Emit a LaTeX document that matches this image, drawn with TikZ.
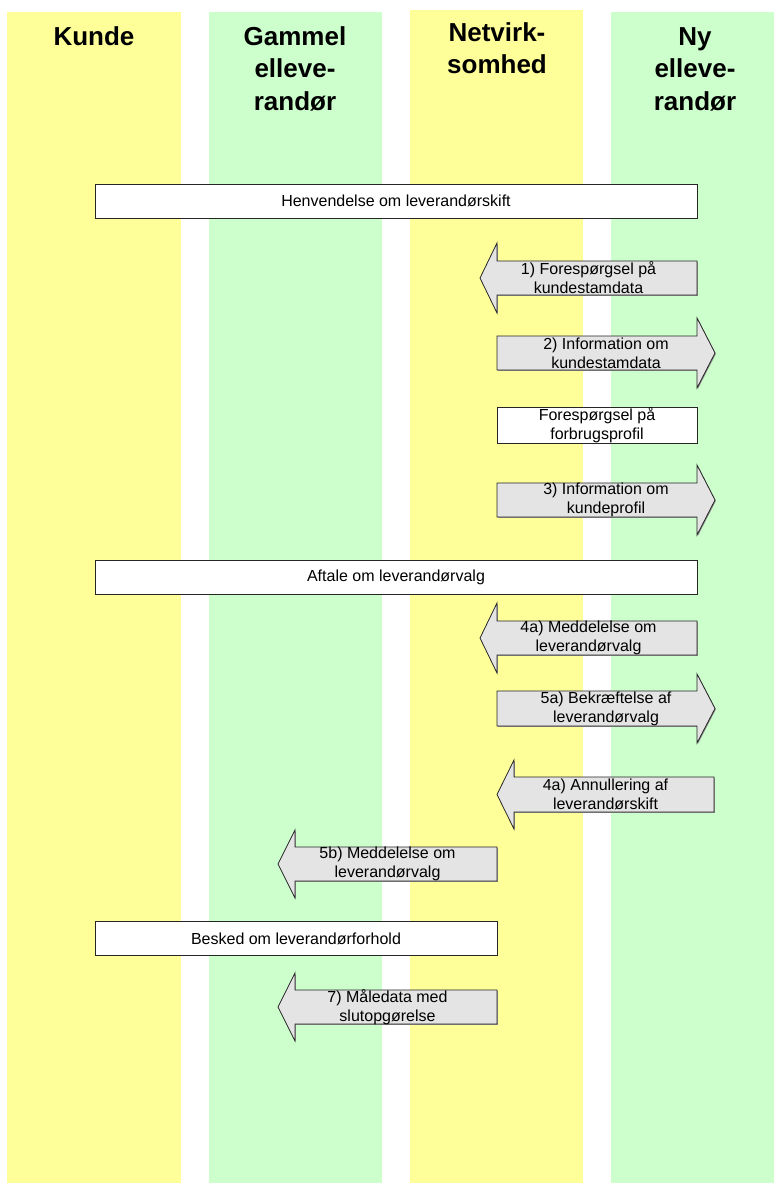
\documentclass[tikz,border=0pt]{standalone}
\usepackage{fontspec}
\setmainfont{Liberation Sans}
\usepackage{tikz}
\usetikzlibrary{shadows}

\definecolor{laneyellow}{HTML}{FFFF99}
\definecolor{lanegreen}{HTML}{CCFFCC}
\definecolor{msggray}{HTML}{E4E4E4}

\begin{document}
\begin{tikzpicture}[x=1pt, y=-1pt]
			\tikzset{head/.style={font=\fontsize{26}{32.5}\selectfont\bfseries, align=center, anchor=base, inner sep=0pt}}
			\tikzset{shade it/.style={drop shadow={shadow xshift=0.9pt, shadow yshift=-0.9pt, fill=black!45, opacity=1}}}
			\tikzset{note/.style={draw=black!85, line width=0.8pt, fill=white, shade it, minimum height=34pt, inner sep=0pt, font=\fontsize{16}{19}\selectfont}}
			\tikzset{msg/.style={draw=black!85, line width=0.8pt, fill=msggray, shade it, line join=miter}}
			\tikzset{msgtext/.style={align=center, inner sep=0pt, font=\fontsize{16}{19}\selectfont}}
			\useasboundingbox (0,0) rectangle (774,1183);
			%lanes
			\fill[laneyellow] (7,12) rectangle (181,1183);
			\fill[lanegreen] (209,12) rectangle (382,1183);
			\fill[laneyellow] (410,10) rectangle (583,1183);
			\fill[lanegreen] (611,12) rectangle (774,1183);
			%headers (base = last line)
			\node[head] (kunde) at (94,45) {Kunde};
			\node[head] (gammel) at (295,110) {Gammel\\elleve-\\randør};
			\node[head] (netvirk) at (497,73.5) {Netvirk-\\somhed};
			\node[head] (ny) at (695,110) {Ny\\elleve-\\randør};
			%boxes
			\node[note, minimum width=602pt] (henv) at (396,201) {Henvendelse om leverandørskift};
			\node[note, minimum width=200pt, align=center] (forbrug) at (597,425.5) {Forespørgsel på\\forbrugsprofil};
			\node[note, minimum width=602pt] (aftale) at (396,577) {Aftale om leverandørvalg};
			\node[note, minimum width=402pt] (besked) at (296,938.5) {Besked om leverandørforhold};
			%arrows
			\draw[msg] (697,261) -- (497,261) -- (497,243) -- (480,278) -- (497,313) -- (497,295) -- (697,295) -- cycle;
			\node[msgtext] (m1) at (588.5,278) {1) Forespørgsel på\\kundestamdata};
			\draw[msg] (497,336) -- (697,336) -- (697,318) -- (715,353) -- (697,388) -- (697,370) -- (497,370) -- cycle;
			\node[msgtext] (m2) at (606,353) {2) Information om\\kundestamdata};
			\draw[msg] (497,483) -- (697,483) -- (697,465) -- (715,500) -- (697,535) -- (697,517) -- (497,517) -- cycle;
			\node[msgtext] (m3) at (606,500) {3) Information om\\kundeprofil};
			\draw[msg] (697,621) -- (497,621) -- (497,603) -- (480,638) -- (497,673) -- (497,655) -- (697,655) -- cycle;
			\node[msgtext] (m4a) at (588.5,638) {4a) Meddelelse om\\leverandørvalg};
			\draw[msg] (497,691) -- (697,691) -- (697,674) -- (715,708.5) -- (697,743) -- (697,726) -- (497,726) -- cycle;
			\node[msgtext] (m5a) at (606,708.5) {5a) Bekræftelse af\\leverandørvalg};
			\draw[msg] (714,777) -- (514,777) -- (514,760) -- (497,794.5) -- (514,829) -- (514,812) -- (714,812) -- cycle;
			\node[msgtext] (annul) at (605.5,794.5) {4a) Annullering af\\leverandørskift};
			\draw[msg] (497,847) -- (295,847) -- (295,830) -- (278,864) -- (295,898) -- (295,881) -- (497,881) -- cycle;
			\node[msgtext] (m5b) at (387.5,864) {5b) Meddelelse om\\leverandørvalg};
			\draw[msg] (497,990) -- (295,990) -- (295,973) -- (278,1007) -- (295,1041) -- (295,1024) -- (497,1024) -- cycle;
			\node[msgtext] (m7) at (387.5,1007) {7) Måledata med\\slutopgørelse};
			\end{tikzpicture}
\end{document}
